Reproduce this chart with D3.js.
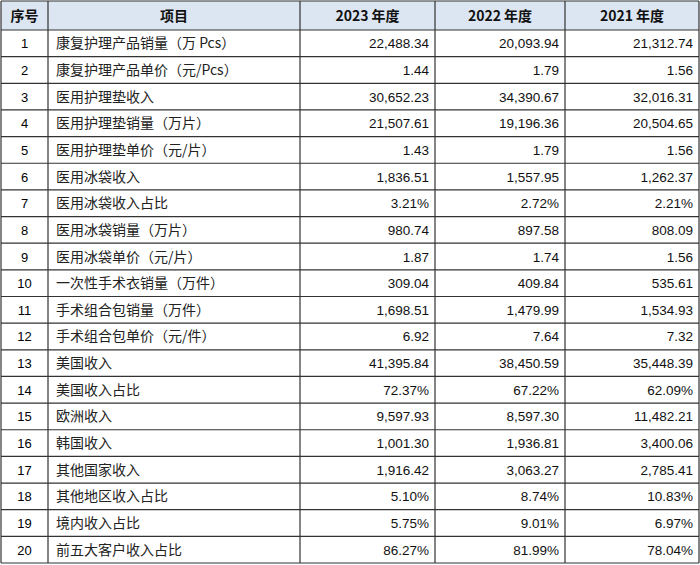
<!DOCTYPE html>
<html><head><meta charset="utf-8">
<script src="https://cdn.jsdelivr.net/npm/d3@7"></script>
<style>body{margin:0;background:#fff}</style>
</head><body><div id="tbl"></div>
<script>
// DATA
const headers = ["序号", "项目", "2023 年度", "2022 年度", "2021 年度"]
const items = ["康复护理产品销量（万 Pcs）","康复护理产品单价（元/Pcs）","医用护理垫收入","医用护理垫销量（万片）","医用护理垫单价（元/片）",
  "医用冰袋收入","医用冰袋收入占比","医用冰袋销量（万片）","医用冰袋单价（元/片）","一次性手术衣销量（万件）",
  "手术组合包销量（万件）","手术组合包单价（元/件）","美国收入","美国收入占比","欧洲收入",
  "韩国收入","其他国家收入","其他地区收入占比","境内收入占比","前五大客户收入占比"]
const v2023 = ["22,488.34","1.44","30,652.23","21,507.61","1.43","1,836.51","3.21%","980.74","1.87","309.04",
  "1,698.51","6.92","41,395.84","72.37%","9,597.93","1,001.30","1,916.42","5.10%","5.75%","86.27%"]
const v2022 = ["20,093.94","1.79","34,390.67","19,196.36","1.79","1,557.95","2.72%","897.58","1.74","409.84",
  "1,479.99","7.64","38,450.59","67.22%","8,597.30","1,936.81","3,063.27","8.74%","9.01%","81.99%"]
const v2021 = ["21,312.74","1.56","32,016.31","20,504.65","1.56","1,262.37","2.21%","808.09","1.56","535.61",
  "1,534.93","7.32","35,448.39","62.09%","11,482.21","3,400.06","2,785.41","10.83%","6.97%","78.04%"]

var W = 700, H = 565, HEAD = 30
var colX = [1, 48, 300, 435, 565, 699]

const svg = d3.select("#tbl").append("svg").attr("width", W).attr("height", H)
const rows = items.map((d,i)=>({n: i+1, item: d, a: v2023[i], b: v2022[i], c: v2021[i]}))

let yScale = d3.scaleBand().domain(d3.range(rows.length)).range([HEAD, H-2])

// header
svg.append("rect").attr("x", colX[0]).attr("y", 1).attr("width", colX[5]-colX[0]).attr("height", HEAD-1)
  .attr("fill", "#dce6f2")
headers.forEach((h,i)=>{
  svg.append("text").text(h)
    .attr("x", (colX[i]+colX[i+1])/2).attr("y", HEAD/2+6)
    .attr("text-anchor", "middle").attr("font-weight", "bold")
    .attr("font-family", "'Noto Sans CJK SC', sans-serif").attr("font-size", 14).attr("fill", "#111")
})

// body
const g = svg.selectAll(".row").data(rows).join("g").attr("class", "row")
  .attr("transform", (d,i)=>`translate(0,${yScale(i)})`)
const bh = yScale.bandwidth()
g.append("text").text(d=>d.n).attr("x", (colX[0]+colX[1])/2).attr("y", bh/2+5)
  .attr("text-anchor", "middle").attr("font-family", "'Liberation Sans', Arial").attr("font-size", 13)
g.append("text").text(d=>d.item).attr("x", colX[1]+8).attr("y", bh/2+5)
  .attr("font-family", "'Noto Sans CJK SC', sans-serif").attr("font-size", 14).attr("fill", "#222")
;["a","b","c"].forEach((k,j)=>{
  g.append("text").text(d=>d[k]).attr("x", colX[j+3]-6).attr("y", bh/2+5)
    .attr("text-anchor", "end").attr("font-family", "'Liberation Sans', Arial").attr("font-size", 13.5).attr("fill", "#111")
})

// grid
const gridColor = "#333"
svg.append("line").attr("x1", colX[0]).attr("x2", colX[5]).attr("y1", 1).attr("y2", 1).attr("stroke", gridColor)
d3.range(rows.length+1).forEach(i=>{
  const y = i < rows.length ? yScale(i) : H-2
  svg.append("line").attr("x1", colX[0]).attr("x2", colX[5]).attr("y1", y).attr("y2", y)
    .attr("stroke", gridColor).attr("stroke-width", 1.2)
})
colX.forEach(x=>{
  svg.append("line").attr("x1", x).attr("x2", x).attr("y1", 1).attr("y2", H-2)
    .attr("stroke", gridColor).attr("stroke-width", 1.2)
})
</script></body></html>
